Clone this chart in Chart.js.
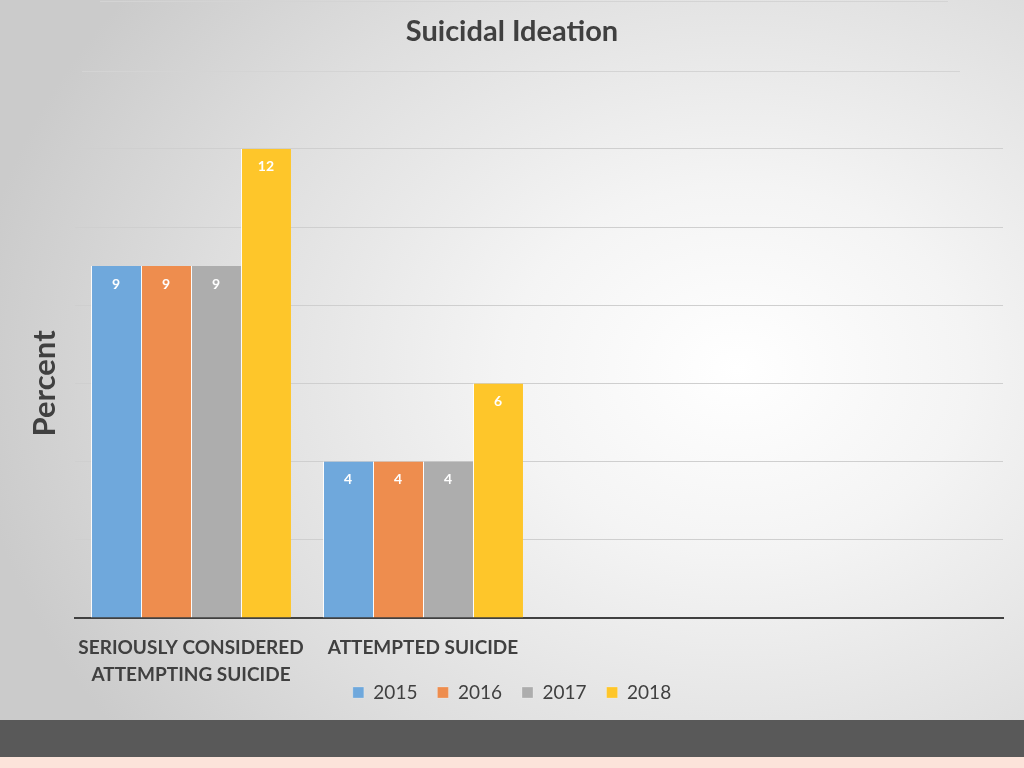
<!DOCTYPE html>
<html>
<head>
<meta charset="utf-8">
<script src="https://cdn.jsdelivr.net/npm/chart.js@4/dist/chart.umd.min.js"></script>
<style>
  html, body { margin:0; padding:0; }
  body {
    width:1024px; height:768px; overflow:hidden; position:relative;
    background: radial-gradient(ellipse 75% 80% at 72% 48%, #ffffff 0%, #f4f4f4 30%, #dedede 70%, #cbcbcb 100%);
    font-family: Lato, "Open Sans", sans-serif;
  }
  #wrap { position:absolute; left:0; top:0; width:1024px; height:720px; }
  .deco { position:absolute; height:1px; background:#d4d4d4; }
  #band { position:absolute; left:0; top:720px; width:1024px; height:37px; background:#595959; }
  #strip { position:absolute; left:0; top:757px; width:1024px; height:11px; background:#fce3da; }
</style>
</head>
<body>
<div class="deco" style="left:100px;top:1px;width:848px;"></div>
<div class="deco" style="left:82px;top:71px;width:878px;"></div>
<div id="wrap"><canvas id="chart" width="1024" height="720"></canvas></div>
<div id="band"></div>
<div id="strip"></div>
<script>
// data
const categories = [['SERIOUSLY CONSIDERED','ATTEMPTING SUICIDE'], 'ATTEMPTED SUICIDE', '', ''];
const years = ['2015','2016','2017','2018'];
const values2015 = [9, 4, null, null];
const values2016 = [9, 4, null, null];
const values2017 = [9, 4, null, null];
const values2018 = [12, 6, null, null];
const yTicks = [0, 2, 4, 6, 8, 10, 12];

const colors = ['#6fa8dc','#ee8d4e','#adadad','#fec62a'];
const series = [values2015, values2016, values2017, values2018];

// white labels inside the top of each bar
const barLabels = {
    id:'barLabels',
    afterDatasetsDraw(chart){
        const ctx = chart.ctx;
        ctx.save();
        ctx.fillStyle = '#ffffff';
        ctx.font = 'bold 14px Lato, sans-serif';
        ctx.textAlign = 'center';
        ctx.textBaseline = 'middle';
        chart.data.datasets.forEach((ds,i)=>{
            chart.getDatasetMeta(i).data.forEach((bar,j)=>{
                if(ds.data[j] == null) return;
                ctx.fillText(ds.data[j], bar.x, bar.y + 18);
            });
        });
        ctx.restore();
    }
};

new Chart(document.getElementById('chart').getContext('2d'), {
    type:'bar',
    data:{
        labels:categories,
        datasets: years.map((y,i)=>({
            label:y,
            data:series[i],
            backgroundColor:colors[i],
            borderColor:'rgba(255,255,255,0.9)',
            borderWidth:{left:1,right:0,top:0,bottom:0},
            categoryPercentage:0.862,
            barPercentage:1
        }))
    },
    options:{
        responsive:false,
        animation:false,
        layout:{padding:{left:21,right:21,top:0,bottom:8}},
        plugins:{
            title:{
                display:true,
                text:'Suicidal Ideation',
                color:'#404040',
                font:{family:'Lato',size:29,weight:'bold'},
                padding:{top:14,bottom:100}
            },
            legend:{
                position:'bottom',
                labels:{
                    color:'#404040',
                    font:{family:'Lato',size:19},
                    boxWidth:11,
                    boxHeight:11,
                    padding:20
                }
            },
            tooltip:{enabled:false}
        },
        scales:{
            x:{
                grid:{display:false},
                border:{color:'#404040',width:2},
                afterFit:(s)=>{ s.height = 45; },
                // let the second label line run into the legend band
                afterUpdate:(s)=>{ s._computeLabelArea = ()=>undefined; },
                ticks:{
                    color:'#404040',
                    font:{family:'Lato',size:19,weight:'bold',lineHeight:1.4},
                    maxRotation:0,
                    autoSkip:false,
                    padding:9
                }
            },
            y:{
                min:0,
                max:12,
                afterBuildTicks:(s)=>{ s.ticks = yTicks.map(v=>({value:v})); },
                afterFit:(s)=>{ s.width = 54; },
                ticks:{display:false},
                grid:{color:'#cfcfcf',drawTicks:false},
                border:{display:false},
                title:{
                    display:true,
                    text:'Percent',
                    color:'#404040',
                    font:{family:'Lato',size:31,weight:'bold'},
                    padding:{top:5,bottom:0}
                }
            }
        }
    },
    plugins:[barLabels]
});
</script>
</body>
</html>
